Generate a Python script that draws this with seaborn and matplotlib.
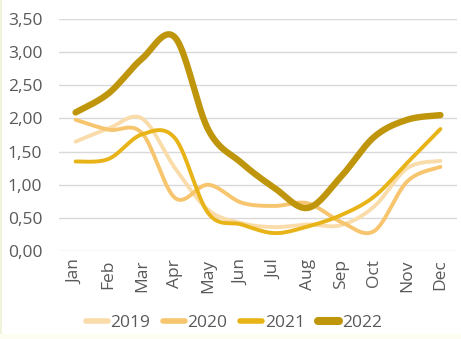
import numpy as np
import pandas as pd
import matplotlib
matplotlib.use("Agg")
import matplotlib.pyplot as plt
from matplotlib.patches import Rectangle
import seaborn as sns

months = ["Jan", "Feb", "Mar", "Apr", "May", "Jun", "Jul", "Aug", "Sep", "Oct", "Nov", "Dec"]
years = ["2019", "2020", "2021", "2022"]
v2019 = [1.65, 1.85, 2.00, 1.25, 0.62, 0.42, 0.36, 0.40, 0.39, 0.67, 1.25, 1.36]
v2020 = [1.98, 1.83, 1.78, 0.80, 1.00, 0.73, 0.68, 0.72, 0.44, 0.30, 1.05, 1.27]
v2021 = [1.35, 1.39, 1.76, 1.70, 0.57, 0.40, 0.27, 0.37, 0.54, 0.82, 1.33, 1.84]
v2022 = [2.09, 2.38, 2.90, 3.22, 1.83, 1.33, 0.95, 0.65, 1.12, 1.72, 1.98, 2.05]
yticks = [0.0, 0.5, 1.0, 1.5, 2.0, 2.5, 3.0, 3.5]

colors = ["#F9DCAA", "#F6C56E", "#E8B317", "#BF950C"]
widths = [2.8, 2.8, 2.8, 4.6]

sns.set_theme(style="white")
plt.rcParams["font.family"] = ["Open Sans", "DejaVu Sans"]


def smooth(xv, yv, n=30):
    # Excel-style smoothed line: cubic Bezier segments (Catmull-Rom control points)
    P = np.column_stack([xv, yv]).astype(float)
    Pe = np.vstack([P[0], P, P[-1]])
    xs, ys = [], []
    t = np.linspace(0, 1, n)[:, None]
    for i in range(len(P) - 1):
        p0, p1, p2, p3 = Pe[i], Pe[i + 1], Pe[i + 2], Pe[i + 3]
        c1 = p1 + (p2 - p0) / 6.0
        c2 = p2 - (p3 - p1) / 6.0
        b = ((1 - t) ** 3) * p1 + 3 * ((1 - t) ** 2) * t * c1 + 3 * (1 - t) * t ** 2 * c2 + t ** 3 * p2
        if i > 0:
            b = b[1:]
        xs.append(b[:, 0]); ys.append(b[:, 1])
    return np.concatenate(xs), np.concatenate(ys)


fig = plt.figure(figsize=(4.61, 3.39), dpi=100)
fig.patches.append(Rectangle((0, 0), 2 / 461, 1, transform=fig.transFigure,
                             facecolor="#F1F2DC", edgecolor="none"))
fig.patches.append(Rectangle((0, 0), 1, 5 / 339, transform=fig.transFigure,
                             facecolor="#FDFDF2", edgecolor="none"))
ax = fig.add_axes([59 / 461, 1 - 251 / 339, 398 / 461, 232 / 339])

xi = np.arange(len(months))
for yr, vals, c, lw in zip(years, [v2019, v2020, v2021, v2022], colors, widths):
    sx, sy = smooth(xi, vals)
    df = pd.DataFrame({"x": sx, "y": sy})
    sns.lineplot(data=df, x="x", y="y", ax=ax, color=c, linewidth=lw, label=yr,
                 sort=False, solid_capstyle="round", solid_joinstyle="round")

ax.set_xlim(-0.5, len(months) - 0.5)
ax.set_ylim(0, 3.5)
ax.set_yticks(yticks)
ax.set_yticklabels([f"{v:.2f}".replace(".", ",") for v in yticks], fontsize=12.5, color="#595959")
ax.set_xticks(xi)
ax.set_xticklabels(months, rotation=90, fontsize=12.5, color="#595959")
ax.tick_params(axis="both", length=0, pad=6)
ax.tick_params(axis="y", pad=12)
ax.set_xlabel("")
ax.set_ylabel("")
ax.grid(axis="y", color="#D9D9D9", linewidth=1.0)
ax.grid(axis="x", visible=False)
for s in ax.spines.values():
    s.set_visible(False)

leg = ax.legend(loc="center", bbox_to_anchor=(234 / 461, 1 - 323 / 339),
                bbox_transform=fig.transFigure, ncol=4, frameon=False,
                fontsize=12.5, handlelength=1.25, handletextpad=0.15,
                columnspacing=0.75, borderaxespad=0)
for t in leg.get_texts():
    t.set_color("#595959")
for h, lw in zip(leg.get_lines(), widths):
    h.set_linewidth(lw + 1.2)
    h.set_solid_capstyle("round")

fig.savefig("out.png", dpi=100)
